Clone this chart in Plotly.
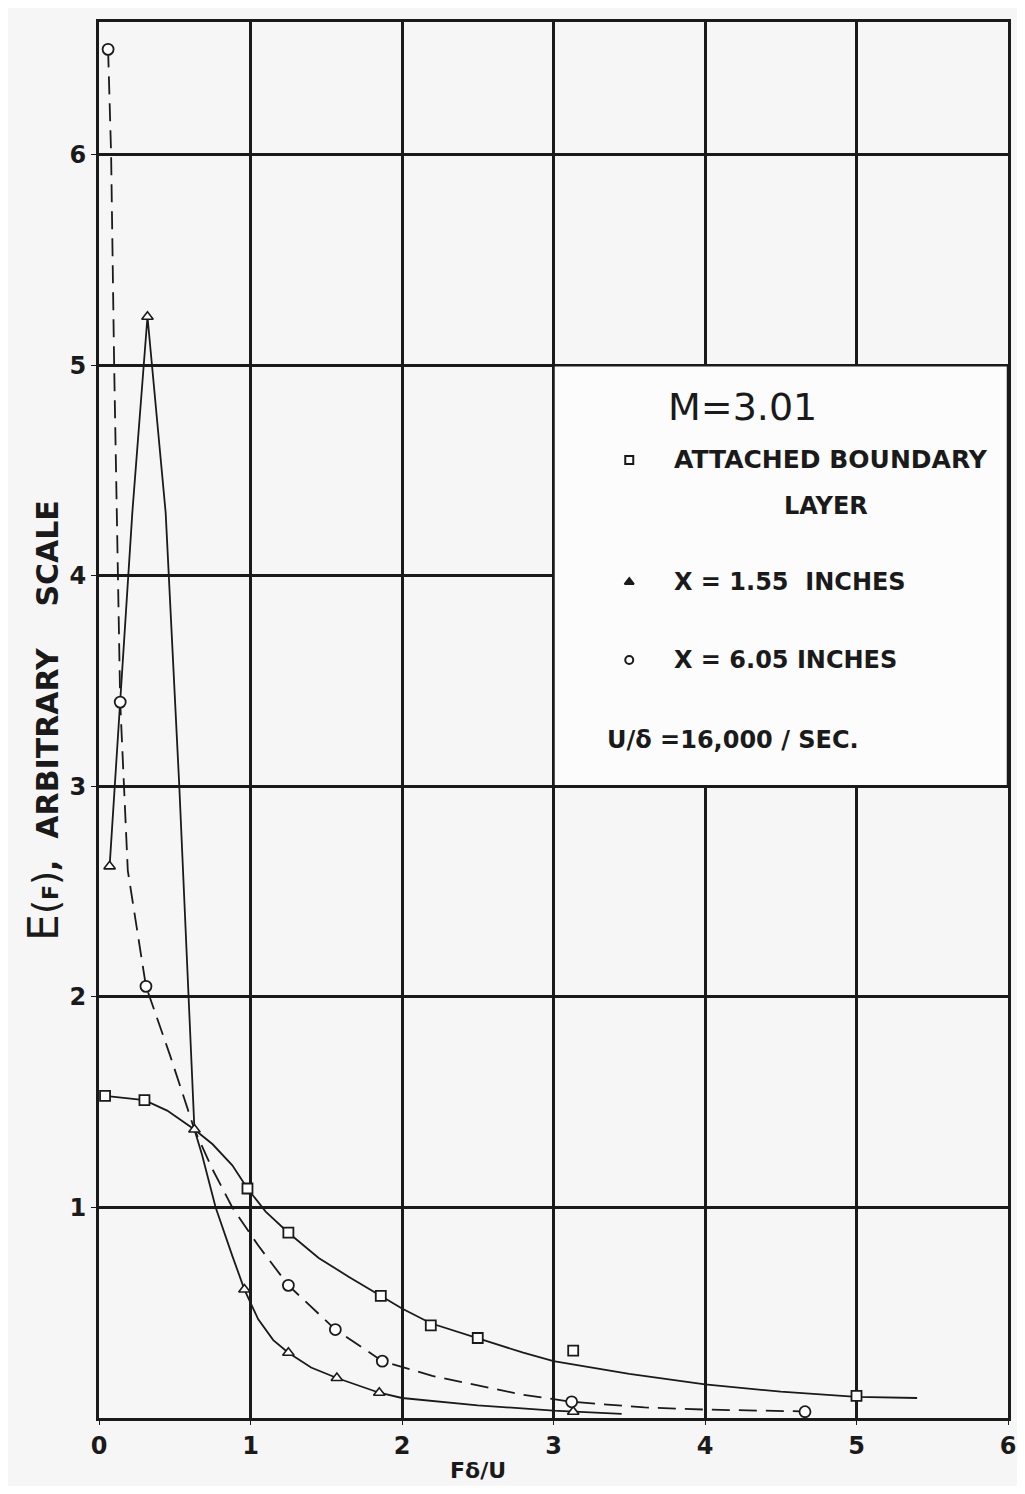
import plotly.graph_objects as go

# ---------------- data ----------------
# Attached boundary layer (squares, solid curve)
sq_x = [0.04, 0.30, 0.98, 1.25, 1.86, 2.19, 2.50, 3.13, 5.00]
sq_y = [1.53, 1.51, 1.09, 0.88, 0.58, 0.44, 0.38, 0.32, 0.105]
sq_curve_x = [0.04, 0.30, 0.45, 0.63, 0.75, 0.88, 0.98, 1.10, 1.25, 1.45, 1.65, 1.86,
              2.00, 2.19, 2.50, 2.80, 3.00, 3.50, 4.00, 4.50, 5.00, 5.40]
sq_curve_y = [1.53, 1.51, 1.46, 1.37, 1.30, 1.20, 1.09, 0.98, 0.88, 0.76, 0.67, 0.58,
              0.52, 0.45, 0.38, 0.31, 0.27, 0.21, 0.16, 0.125, 0.10, 0.095]

# X = 1.55 inches (triangles, solid curve)
tr_x = [0.07, 0.32, 0.63, 0.96, 1.25, 1.57, 1.85, 3.13]
tr_y = [2.62, 5.23, 1.37, 0.61, 0.31, 0.19, 0.12, 0.03]
tr_curve_x = [0.07, 0.15, 0.22, 0.32, 0.44, 0.53, 0.63, 0.68, 0.77, 0.88, 0.96, 1.05,
              1.15, 1.25, 1.40, 1.57, 1.85, 2.00, 2.50, 3.00, 3.45]
tr_curve_y = [2.62, 3.50, 4.30, 5.23, 4.30, 3.00, 1.37, 1.25, 1.00, 0.77, 0.61, 0.47,
              0.37, 0.31, 0.24, 0.19, 0.12, 0.095, 0.06, 0.035, 0.02]

# X = 6.05 inches (circles, dashed curve)
ci_x = [0.06, 0.14, 0.31, 1.25, 1.56, 1.87, 3.12, 4.66]
ci_y = [6.50, 3.40, 2.05, 0.63, 0.42, 0.27, 0.077, 0.03]
ci_curve_x = [0.06, 0.08, 0.10, 0.12, 0.14, 0.19, 0.31, 0.47, 0.63, 0.75, 0.88, 1.05,
              1.25, 1.56, 1.87, 2.20, 2.50, 2.80, 3.12, 3.60, 4.00, 4.66, 4.75]
ci_curve_y = [6.50, 6.00, 5.00, 4.20, 3.40, 2.60, 2.05, 1.72, 1.37, 1.18, 1.00, 0.82,
              0.63, 0.42, 0.27, 0.20, 0.155, 0.11, 0.077, 0.05, 0.04, 0.03, 0.03]

x_ticks = [0, 1, 2, 3, 4, 5, 6]
y_ticks = [1, 2, 3, 4, 5, 6]

legend_labels = ["ATTACHED BOUNDARY", "X = 1.55  INCHES", "X = 6.05 INCHES"]
note_text = "U/δ =16,000 / SEC."
mach_text = "M=3.01"
x_title = "Fδ/U"

# ---------------- figure ----------------
INK = "#1a1a1a"
BG = "#f6f6f6"
FONT = "DejaVu Sans"

fig = go.Figure()

fig.add_trace(go.Scatter(x=sq_curve_x, y=sq_curve_y, mode="lines",
                         line=dict(color=INK, width=1.8), hoverinfo="skip"))
fig.add_trace(go.Scatter(x=tr_curve_x, y=tr_curve_y, mode="lines",
                         line=dict(color=INK, width=1.8), hoverinfo="skip"))
fig.add_trace(go.Scatter(x=ci_curve_x, y=ci_curve_y, mode="lines",
                         line=dict(color=INK, width=1.8, dash="18px,9px"), hoverinfo="skip"))

fig.add_trace(go.Scatter(x=sq_x, y=sq_y, mode="markers",
                         marker=dict(symbol="square", size=10, color="white",
                                     line=dict(color=INK, width=1.8))))
fig.add_trace(go.Scatter(x=tr_x, y=tr_y, mode="markers",
                         marker=dict(symbol="triangle-up", size=10, color="white",
                                     line=dict(color=INK, width=1.6))))
fig.add_trace(go.Scatter(x=ci_x, y=ci_y, mode="markers",
                         marker=dict(symbol="circle", size=11, color="white",
                                     line=dict(color=INK, width=1.8))))

# legend box (covers the grid, bordered by grid lines)
fig.add_shape(type="rect", x0=3, x1=6, y0=3, y1=5, xref="x", yref="y",
              fillcolor="#fcfcfc", line=dict(color=INK, width=2.5), layer="between")

# legend markers
leg_x = [3.50, 3.50, 3.50]
leg_y = [4.55, 3.97, 3.60]
fig.add_trace(go.Scatter(x=leg_x, y=leg_y, mode="markers",
                         marker=dict(symbol=["square", "triangle-up", "circle"], size=8,
                                     color=["white", INK, "white"],
                                     line=dict(color=INK, width=2)),
                         hoverinfo="skip"))

bold = dict(family=FONT, size=24, color=INK, weight="bold")
fig.add_annotation(x=4.25, y=4.80, text=mach_text, showarrow=False, xanchor="center",
                   font=dict(family=FONT, size=38, color=INK))
fig.add_annotation(x=3.78, y=4.55, text=legend_labels[0], showarrow=False, xanchor="left",
                   font=dict(family=FONT, size=25, color=INK, weight="bold"))
fig.add_annotation(x=4.80, y=4.33, text="LAYER", showarrow=False, xanchor="center",
                   font=bold)
fig.add_annotation(x=3.78, y=3.97, text=legend_labels[1], showarrow=False, xanchor="left",
                   font=bold)
fig.add_annotation(x=3.78, y=3.60, text=legend_labels[2], showarrow=False, xanchor="left",
                   font=bold)
fig.add_annotation(x=3.34, y=3.22, text=note_text, showarrow=False, xanchor="left",
                   font=bold)

# axis titles
fig.add_annotation(xref="paper", yref="paper", x=-0.062, y=0.50, textangle=-90,
                   text="<span style='font-size:42px;font-weight:normal'>E</span>"
                        "<span style='font-size:36px;font-weight:normal'>(</span>"
                        "<span style='font-size:22px'>F</span>"
                        "<span style='font-size:36px;font-weight:normal'>)</span>"
                        ",  ARBITRARY    SCALE",
                   showarrow=False, xanchor="center", yanchor="middle",
                   font=dict(family=FONT, size=30, color=INK, weight="bold"))
fig.add_annotation(x=2.5, xref="x", yref="paper", y=-0.027, text=x_title, showarrow=False,
                   xanchor="center", yanchor="top",
                   font=dict(family=FONT, size=22, color=INK, weight="bold"))

fig.update_xaxes(range=[0, 6], tickvals=x_ticks, ticktext=[str(v) for v in x_ticks],
                 showgrid=True, gridcolor=INK, gridwidth=2.5, zeroline=False,
                 showline=True, linecolor=INK, linewidth=3, mirror=True,
                 ticks="outside", ticklen=4, tickcolor=INK, automargin=False,
                 ticklabeloverflow="allow",
                 tickfont=dict(family=FONT, size=24, color=INK, weight="bold"))
fig.update_yaxes(range=[0, 6.63], tickvals=y_ticks, ticktext=[str(v) for v in y_ticks],
                 showgrid=True, gridcolor=INK, gridwidth=2.5, zeroline=False,
                 showline=True, linecolor=INK, linewidth=3, mirror=True,
                 ticks="outside", ticklen=5, tickcolor=INK, automargin=False,
                 tickfont=dict(family=FONT, size=24, color=INK, weight="bold"))

fig.update_layout(width=1009, height=1478, showlegend=False,
                  margin=dict(l=91, r=9, t=14, b=68),
                  paper_bgcolor=BG, plot_bgcolor=BG)

fig.write_html("out.html")
